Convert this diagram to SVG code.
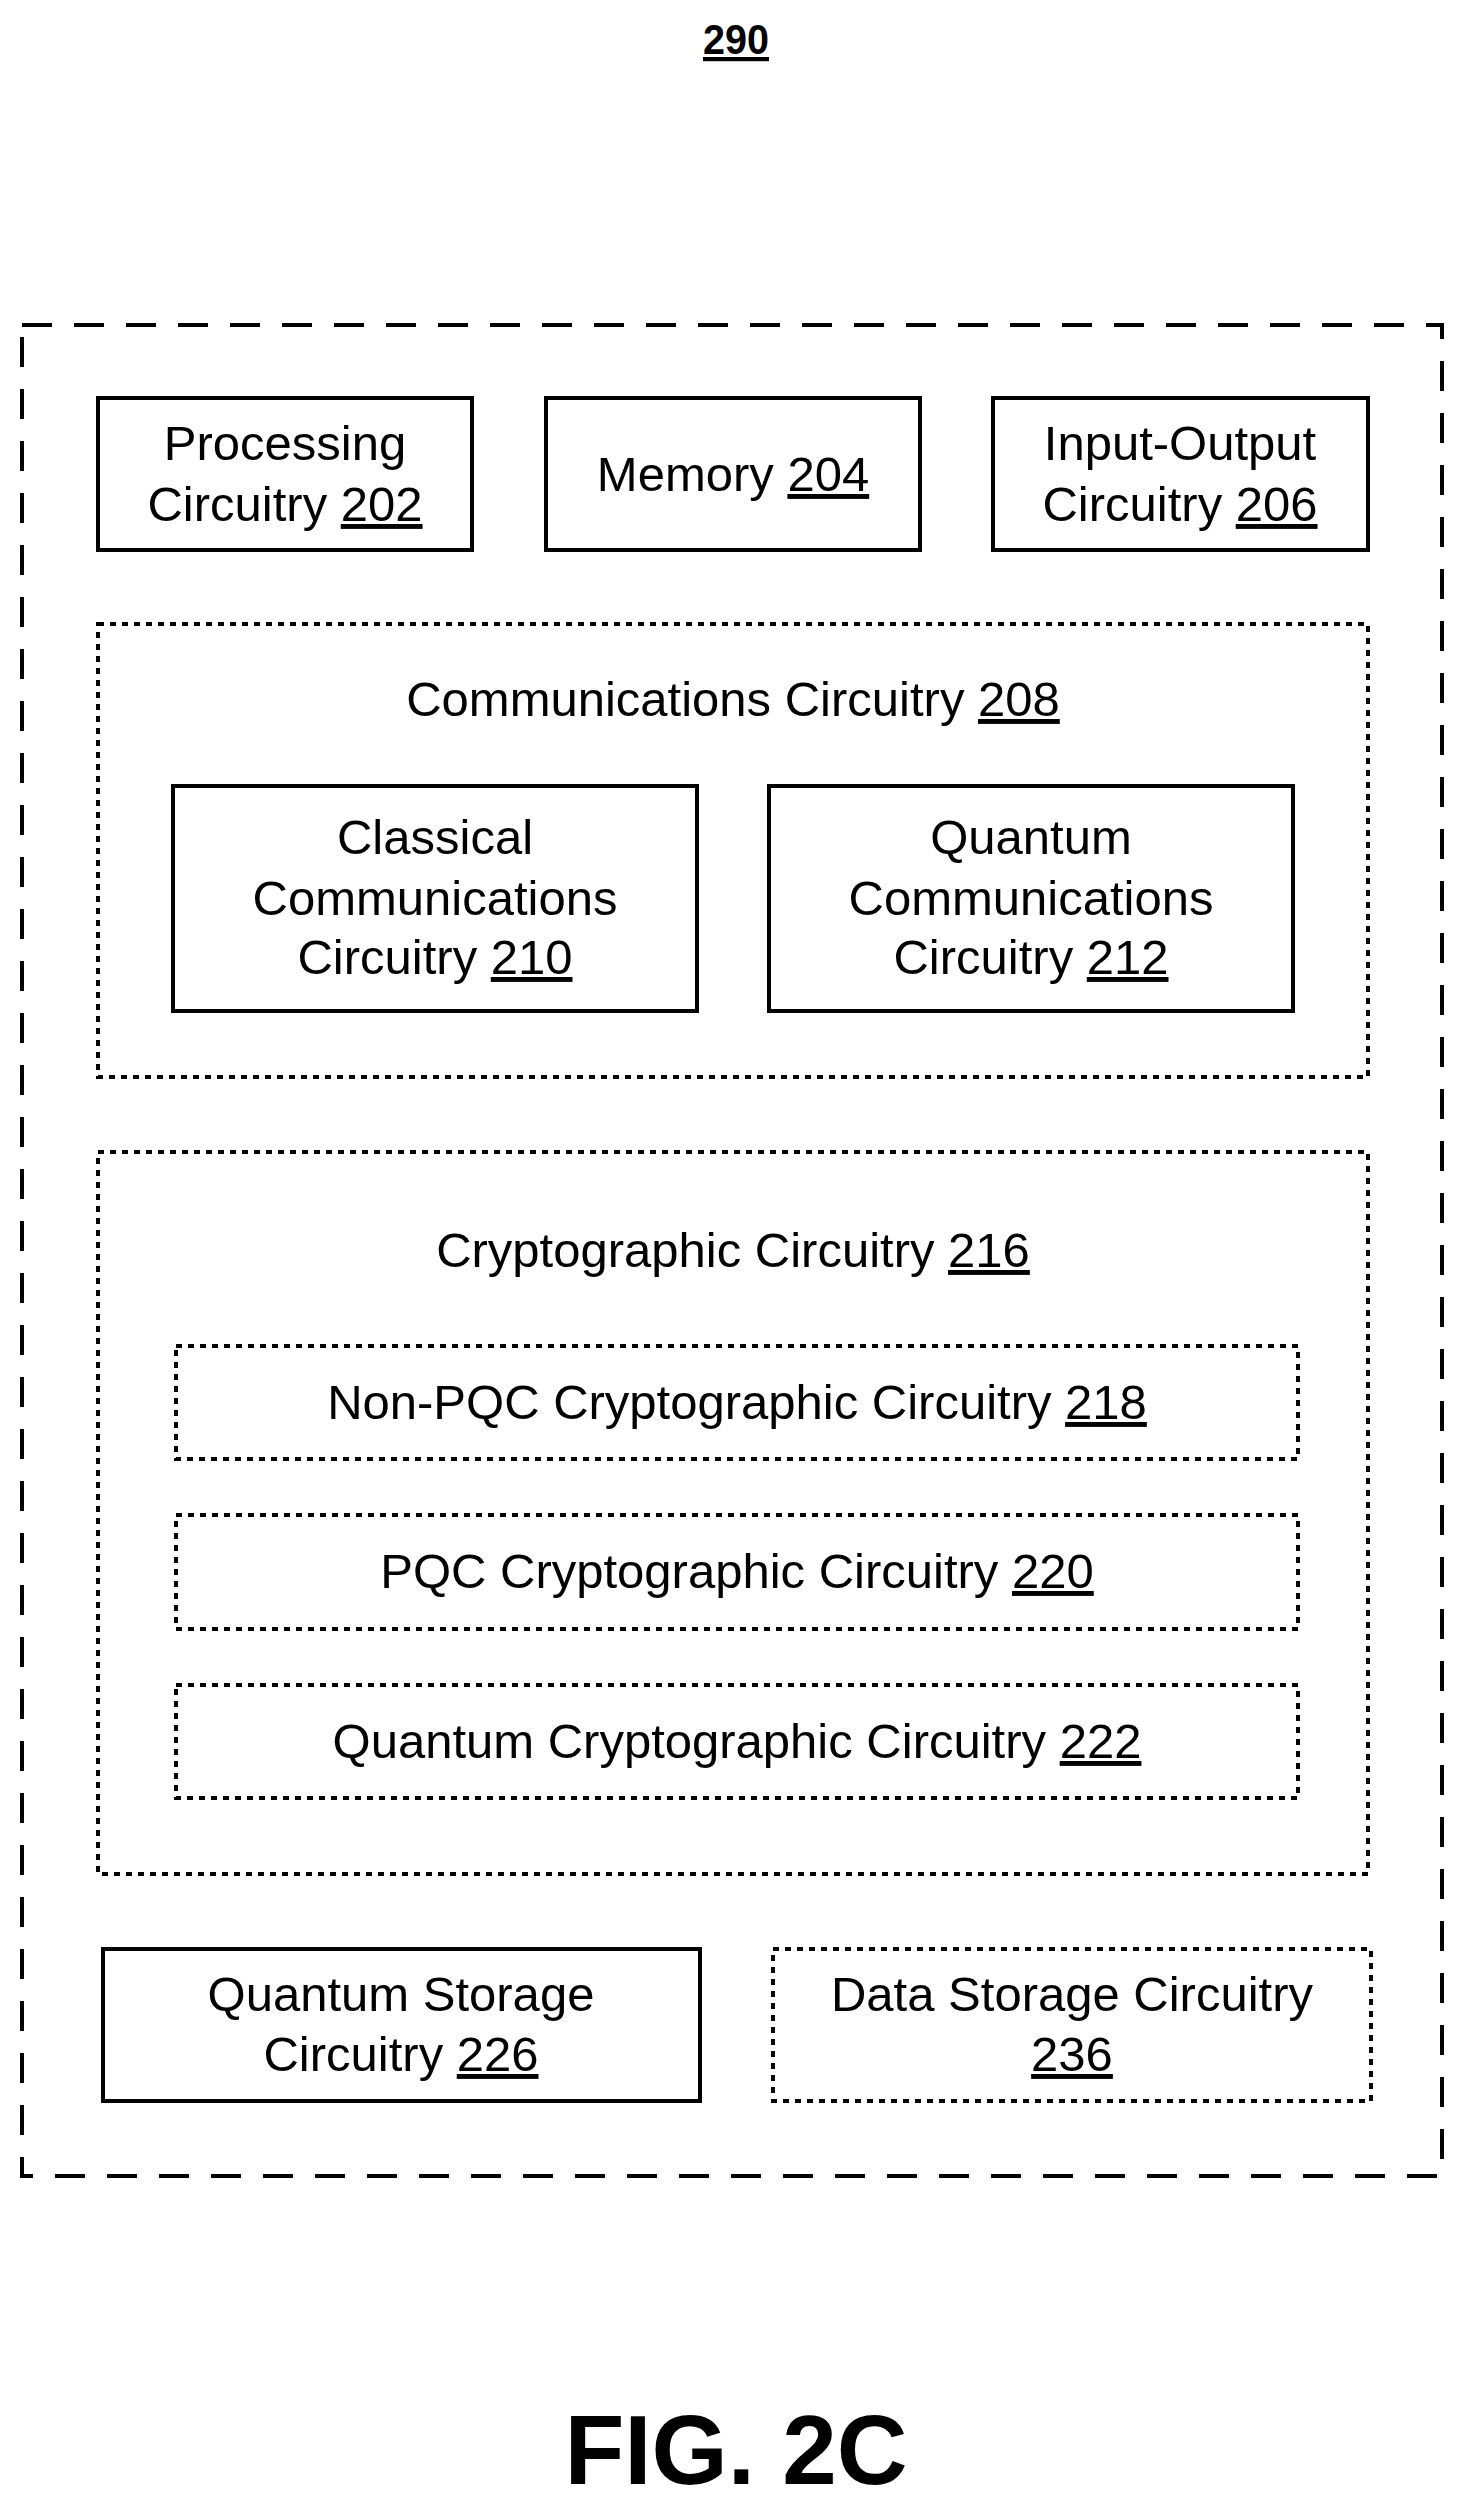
<svg xmlns="http://www.w3.org/2000/svg" width="1472" height="2495" viewBox="0 0 1472 2495">
<style>
text{font-family:"Liberation Sans",Arial,sans-serif;font-size:49px;fill:#000;text-anchor:middle}
.u{text-decoration:underline}
.solid{fill:none;stroke:#000;stroke-width:4}
.dot{fill:none;stroke:#000;stroke-width:4;stroke-dasharray:6 6}
.dash{fill:none;stroke:#000;stroke-width:4;stroke-dasharray:30 22}
</style>
<rect width="1472" height="2495" fill="#fff"/>
<text x="736" y="54" style="font-weight:bold;font-size:42px" class="u" textLength="66" lengthAdjust="spacingAndGlyphs">290</text>
<g id="outer"><rect class="dash" x="22" y="325" width="1420" height="1851"/></g>
<g id="n202"><rect class="solid" x="98" y="398" width="374" height="152"/>
<text x="285" y="460">Processing</text><text x="285" y="521">Circuitry <tspan class="u">202</tspan></text></g>
<g id="n204"><rect class="solid" x="546" y="398" width="374" height="152"/>
<text x="733" y="491">Memory <tspan class="u">204</tspan></text></g>
<g id="n206"><rect class="solid" x="993" y="398" width="375" height="152"/>
<text x="1180" y="460">Input-Output</text><text x="1180" y="521">Circuitry <tspan class="u">206</tspan></text></g>
<g id="n208"><rect class="dot" x="98" y="624" width="1270" height="453"/>
<text x="733" y="716">Communications Circuitry <tspan class="u">208</tspan></text></g>
<g id="n210"><rect class="solid" x="173" y="786" width="524" height="225"/>
<text x="435" y="854">Classical</text><text x="435" y="915">Communications</text><text x="435" y="974">Circuitry <tspan class="u">210</tspan></text></g>
<g id="n212"><rect class="solid" x="769" y="786" width="524" height="225"/>
<text x="1031" y="854">Quantum</text><text x="1031" y="915">Communications</text><text x="1031" y="974">Circuitry <tspan class="u">212</tspan></text></g>
<g id="n216"><rect class="dot" x="98" y="1152" width="1270" height="722"/>
<text x="733" y="1267">Cryptographic Circuitry <tspan class="u">216</tspan></text></g>
<g id="n218"><rect class="dot" x="176" y="1346" width="1122" height="113"/>
<text x="737" y="1419">Non-PQC Cryptographic Circuitry <tspan class="u">218</tspan></text></g>
<g id="n220"><rect class="dot" x="176" y="1515" width="1122" height="114"/>
<text x="737" y="1588">PQC Cryptographic Circuitry <tspan class="u">220</tspan></text></g>
<g id="n222"><rect class="dot" x="176" y="1685" width="1122" height="113"/>
<text x="737" y="1758">Quantum Cryptographic Circuitry <tspan class="u">222</tspan></text></g>
<g id="n226"><rect class="solid" x="103" y="1949" width="597" height="152"/>
<text x="401" y="2011">Quantum Storage</text><text x="401" y="2071">Circuitry <tspan class="u">226</tspan></text></g>
<g id="n236"><rect class="dot" x="773" y="1949" width="598" height="152"/>
<text x="1072" y="2011">Data Storage Circuitry</text><text x="1072" y="2071" class="u">236</text></g>
<g id="connectors"/>
<text x="736" y="2484" style="font-weight:bold;font-size:98px">FIG. 2C</text>
</svg>
